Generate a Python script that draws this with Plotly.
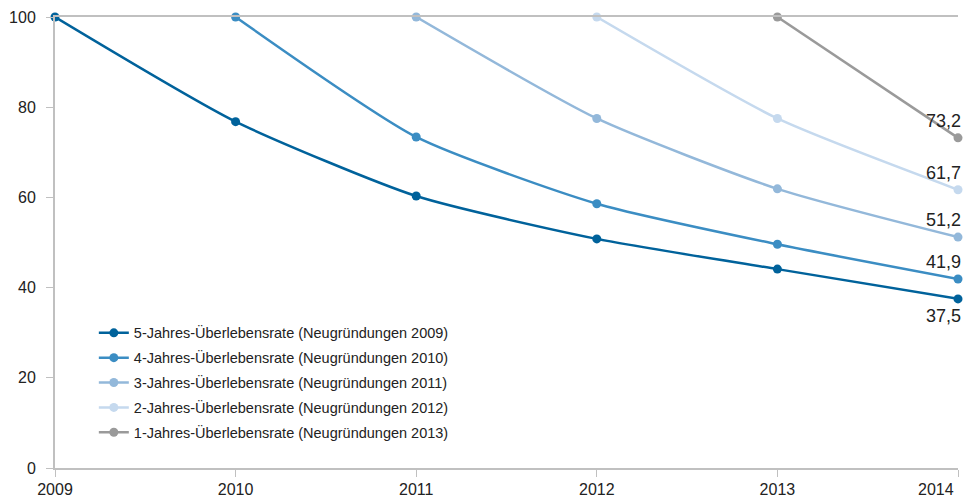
import plotly.graph_objects as go

years = [2009, 2010, 2011, 2012, 2013, 2014]
year_labels = ["2009", "2010", "2011", "2012", "2013", ""]
last_year_label = "2014"

names = [
    "5-Jahres-Überlebensrate (Neugründungen 2009)",
    "4-Jahres-Überlebensrate (Neugründungen 2010)",
    "3-Jahres-Überlebensrate (Neugründungen 2011)",
    "2-Jahres-Überlebensrate (Neugründungen 2012)",
    "1-Jahres-Überlebensrate (Neugründungen 2013)",
]
start_years = [2009, 2010, 2011, 2012, 2013]

rate_2009 = [100, 76.8, 60.3, 50.8, 44.1, 37.5]
rate_2010 = [100, 73.4, 58.6, 49.6, 41.9]
rate_2011 = [100, 77.5, 61.9, 51.2]
rate_2012 = [100, 77.5, 61.7]
rate_2013 = [100, 73.2]
series = [rate_2009, rate_2010, rate_2011, rate_2012, rate_2013]

colors = ["#00629b", "#3b8dc3", "#93b8da", "#c5d9ee", "#9a9a9a"]
label_pos = ["below", "above", "above", "above", "above"]

fig = go.Figure()
for i, (name, sy, vals, col) in enumerate(zip(names, start_years, series, colors)):
    xs = years[years.index(sy):]
    fig.add_trace(go.Scatter(
        x=xs, y=vals, name=name, mode="lines+markers",
        line=dict(color=col, width=2.5, shape="spline", smoothing=0.6),
        marker=dict(color=col, size=9),
        cliponaxis=False, legendgroup=str(i),
    ))
    last = vals[-1]
    fig.add_annotation(
        x=xs[-1], y=last, text=f"{last:.1f}".replace(".", ","),
        showarrow=False, xanchor="right", xshift=5,
        yanchor="bottom" if label_pos[i] == "above" else "top",
        yshift=5 if label_pos[i] == "above" else -5,
        font=dict(size=18, color="#222222"),
    )

# last x tick label kept inside the chart, right-aligned to its tick
fig.add_annotation(
    x=years[-1], y=0, yref="y", text=last_year_label, showarrow=False,
    xanchor="right", yanchor="top", xshift=-2, yshift=-11,
    font=dict(size=16, color="#222222"),
)

fig.update_layout(
    width=967, height=489,
    margin=dict(l=47, r=17, t=9, b=29, autoexpand=False),
    paper_bgcolor="white", plot_bgcolor="white",
    font=dict(family="Liberation Sans, Arial, sans-serif", color="#222222", size=16),
    legend=dict(
        x=0.043, y=0.335, xanchor="left", yanchor="top",
        font=dict(size=14.5), traceorder="grouped", tracegroupgap=3,
        bgcolor="rgba(0,0,0,0)",
    ),
    showlegend=True,
)
fig.update_xaxes(
    range=[2009, 2014], tickvals=years, ticktext=year_labels,
    showgrid=False, zeroline=False, showline=True, linecolor="#c0c0c0", linewidth=2,
    mirror=True, ticks="outside", ticklen=7, tickcolor="#c0c0c0", tickwidth=1,
    tickfont=dict(size=16), automargin=False, ticklabelstandoff=-1,
)
fig.update_yaxes(
    range=[0, 100], tickvals=[0, 20, 40, 60, 80, 100],
    showgrid=False, zeroline=False, showline=True, linecolor="#c0c0c0", linewidth=2,
    ticks="outside", ticklen=7, tickcolor="#c0c0c0", tickwidth=1,
    tickfont=dict(size=16), automargin=False, ticklabelstandoff=7,
)

fig.write_html("out.html")
